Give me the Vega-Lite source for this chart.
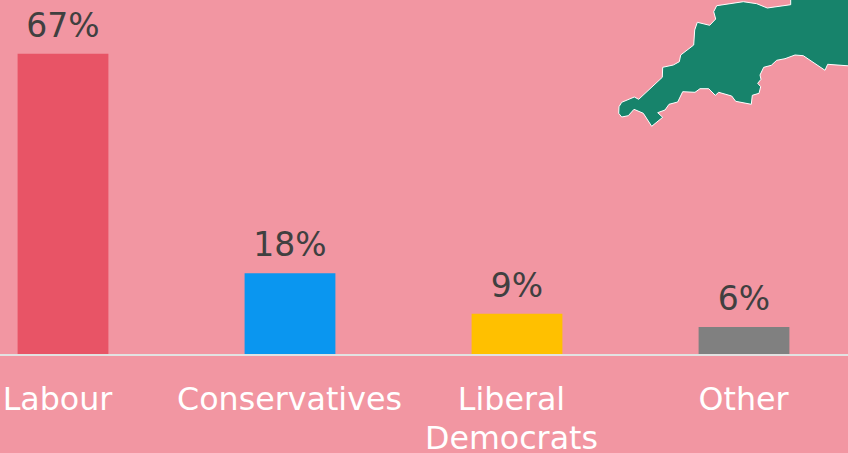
{
  "$schema": "https://vega.github.io/schema/vega-lite/v6.json",
  "width": 848,
  "height": 354,
  "autosize": {"type": "none"},
  "padding": {"left": 0, "top": 0, "right": 0, "bottom": 99},
  "background": "#f296a2",
  "view": {"stroke": null},
  "config": {"font": "DejaVu Sans"},
  "layer": [
    {
      "data": {"values": [
        {"seq":1,"east":790.7,"north":458},{"seq":2,"east":790.7,"north":448.3},{"seq":3,"east":767.3,"north":445},{"seq":4,"east":756.7,"north":449.3},{"seq":5,"east":743.3,"north":451.3},{"seq":6,"east":716.7,"north":447.3},{"seq":7,"east":713.7,"north":441.3},{"seq":8,"east":715.7,"north":434},{"seq":9,"east":709.7,"north":427.7},{"seq":10,"east":697.3,"north":430.7},{"seq":11,"east":694.7,"north":423},{"seq":12,"east":693.7,"north":408},{"seq":13,"east":680.7,"north":398},{"seq":14,"east":679.3,"north":391.3},{"seq":15,"east":673.3,"north":388},{"seq":16,"east":662.7,"north":385.7},{"seq":17,"east":662.3,"north":375.7},{"seq":18,"east":638.7,"north":353.7},{"seq":19,"east":634.3,"north":356},{"seq":20,"east":621.7,"north":350.7},{"seq":21,"east":619,"north":346.3},{"seq":22,"east":618.7,"north":339.7},{"seq":23,"east":621.7,"north":336},{"seq":24,"east":628.3,"north":337.3},{"seq":25,"east":634,"north":343.7},{"seq":26,"east":643.3,"north":339.7},{"seq":27,"east":651.7,"north":326.7},{"seq":28,"east":662.7,"north":335.7},{"seq":29,"east":657.7,"north":340.3},{"seq":30,"east":665,"north":343},{"seq":31,"east":669,"north":348.7},{"seq":32,"east":677.7,"north":351},{"seq":33,"east":682.7,"north":361.3},{"seq":34,"east":695,"north":360.7},{"seq":35,"east":700,"north":364.3},{"seq":36,"east":708.7,"north":364.3},{"seq":37,"east":715.3,"north":357.7},{"seq":38,"east":718.7,"north":360.7},{"seq":39,"east":731.7,"north":357},{"seq":40,"east":735.7,"north":351.7},{"seq":41,"east":751.3,"north":348.7},{"seq":42,"east":752.3,"north":357.7},{"seq":43,"east":759,"north":359.7},{"seq":44,"east":760.7,"north":366.3},{"seq":45,"east":757.7,"north":369.7},{"seq":46,"east":761,"north":373.7},{"seq":47,"east":760,"north":378},{"seq":48,"east":763.7,"north":385.7},{"seq":49,"east":771.3,"north":387.7},{"seq":50,"east":776.7,"north":392.7},{"seq":51,"east":785,"north":394.3},{"seq":52,"east":795,"north":398},{"seq":53,"east":803.3,"north":397.3},{"seq":54,"east":825,"north":382.7},{"seq":55,"east":827.7,"north":388.7},{"seq":56,"east":860,"north":386.3},{"seq":57,"east":860,"north":458},{"seq":58,"east":790.7,"north":458}
      ]},
      "mark": {"type": "line", "fill": "#17836b", "stroke": "#ffffff", "strokeWidth": 1, "clip": true, "interpolate": "linear"},
      "encoding": {
        "x": {"field": "east", "type": "quantitative", "scale": {"domain": [0, 848], "nice": false, "zero": false}, "axis": null},
        "y": {"field": "north", "type": "quantitative", "scale": {"domain": [99, 453], "nice": false, "zero": false}, "axis": null},
        "order": {"field": "seq", "type": "quantitative"}
      }
    },
    {
      "data": {"values": [
        {"party": "Labour", "share": 67, "colour": "#e85466"},
        {"party": "Conservatives", "share": 18, "colour": "#0a96f0"},
        {"party": "Liberal Democrats", "share": 9, "colour": "#ffc000"},
        {"party": "Other", "share": 6, "colour": "#808080"}
      ]},
      "encoding": {
        "x": {
          "field": "party",
          "type": "nominal",
          "sort": null,
          "scale": {"range": [-50.5, 857.5], "paddingInner": 0.6, "paddingOuter": 0.3},
          "axis": {
            "title": null,
            "orient": "bottom",
            "ticks": false,
            "grid": false,
            "domainColor": "#e2e2e2",
            "domainWidth": 2,
            "offset": 1,
            "translate": 0,
            "labelAngle": 0,
            "labelColor": "#ffffff",
            "labelFont": "DejaVu Sans",
            "labelFontSize": 31.7,
            "labelLineHeight": 38.5,
            "labelPadding": 30,
            "labelOverlap": false,
            "labelLimit": 0,
            "labelOffset": {"expr": "datum.label == 'Labour' || datum.label == 'Liberal Democrats' ? -5 : 0"},
            "labelExpr": "datum.label == 'Liberal Democrats' ? ['Liberal', 'Democrats'] : datum.label"
          }
        },
        "y": {
          "field": "share",
          "type": "quantitative",
          "scale": {"domain": [0, 79], "nice": false},
          "axis": null
        }
      },
      "layer": [
        {
          "mark": {"type": "bar"},
          "encoding": {"color": {"field": "colour", "type": "nominal", "scale": null}}
        },
        {
          "transform": [{"calculate": "datum.share + '%'", "as": "shareLabel"}],
          "mark": {"type": "text", "baseline": "alphabetic", "align": "center", "dy": -17, "fontSize": 33, "font": "DejaVu Sans", "color": "#404040"},
          "encoding": {"text": {"field": "shareLabel", "type": "nominal"}}
        }
      ]
    }
  ],
  "resolve": {"scale": {"x": "independent", "y": "independent"}, "axis": {"x": "independent", "y": "independent"}}
}
